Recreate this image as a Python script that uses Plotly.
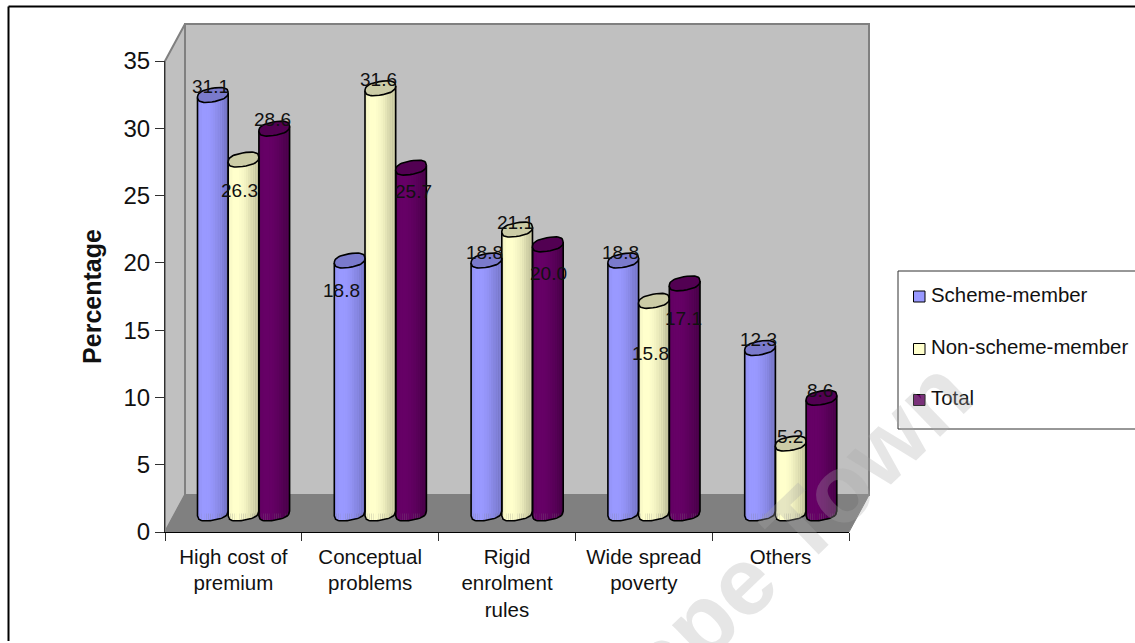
import numpy as np
import plotly.graph_objects as go

# Survey results: reasons given, in percent of respondents
categories = ["High cost of<br>premium", "Conceptual<br>problems", "Rigid<br>enrolment<br>rules",
              "Wide spread<br>poverty", "Others"]
scheme_member = [31.1, 18.8, 18.8, 18.8, 12.3]
non_scheme_member = [26.3, 31.6, 21.1, 15.8, 5.2]
total = [28.6, 25.7, 20.0, 17.1, 8.6]
y_ticks = [0, 5, 10, 15, 20, 25, 30, 35]

# Canvas layout, in pixels
W, H = 1135, 643
L, R, T, B = 165, 849, 61, 532
PX_X = (R - L) / 5          # pixels per category
PX_Y = (B - T) / 35         # pixels per percentage point
FONT = "Liberation Sans"
INK = "#111111"

# Fake 3-D: how far the back wall sits behind the front plane
WALL_DX, WALL_DY = 20, 37
DEPTH = 18.5 / PX_Y         # bars stand half way back, in axis units
BAR_W = 30.7 / PX_X
GROUP_START = 32.5 / PX_X
CAP_B, CAP_K = 6.8 / PX_Y, 2.4 / PX_Y

series = [
    ("Scheme-member", scheme_member, "#9999FF", "#7474C4", "#7A7ACC"),
    ("Non-scheme-member", non_scheme_member, "#FFFFCC", "#BEBE98", "#CCCCA6"),
    ("Total", total, "#660066", "#470047", "#520052"),
]
# Label nudges per series and category: (dx, dy) in pixels from the bar's front-plane top
label_nudge = [
    [(-2, -27), (-8, 11), (-2, -27), (-3, -27), (-2, -27)],
    [(-4, 12), (-2, -27), (-2, -26), (-3, 34), (-1, -26)],
    [(-2, -28), (2, 5), (1, 11), (-1, 17), (-1, -26)],
]
SHADE = [.2, .08, 0, 0, 0, .04, .1, .18, .3, .42, .55, .7, .85, 1.0]


def xp(px):
    return (px - L) / (R - L)


def yp(py):
    return (B - py) / (B - T)


def path(points):
    return "M " + " L ".join(f"{xp(x)} {yp(y)}" for x, y in points) + " Z"


def mix(c1, c2, t):
    a = [int(c1[i:i + 2], 16) for i in (1, 3, 5)]
    b = [int(c2[i:i + 2], 16) for i in (1, 3, 5)]
    return "rgb(" + ",".join(str(round(p + (q - p) * t)) for p, q in zip(a, b)) + ")"


def cap_outline(n=48, power=0.8):
    """Unit outline of the slanted bar end: u across the bar, v up in axis units."""
    t = np.linspace(0, 2 * np.pi, n)
    u = np.sign(np.cos(t)) * np.abs(np.cos(t)) ** power
    v = CAP_B * np.sign(np.sin(t)) * np.abs(np.sin(t)) ** power + CAP_K * u
    return u, v


def foot_v(u):
    """Lower edge of the bar end, at position u in [-1, 1]."""
    return -CAP_B * np.abs(1 - np.abs(u) ** (2 / 0.8)) ** 0.4 + CAP_K * u


fig = go.Figure()
annotations = []
n_stripes = len(SHADE)
idx = np.arange(len(categories))

for s, (name, values, light, dark, top_col) in enumerate(series):
    values = np.array(values, dtype=float)
    left = idx + GROUP_START + s * BAR_W
    # Solid bar for the series
    fig.add_bar(x=left, y=values, base=DEPTH, width=BAR_W, offset=0, name=name,
                marker=dict(color=light, line=dict(width=0)), showlegend=False,
                hovertemplate=name + ": %{y}<extra></extra>")
    # Vertical bands give the cylinder its shading and rounded foot
    w = BAR_W / n_stripes
    for k in range(n_stripes):
        u = (k + .5) / n_stripes * 2 - 1
        foot = DEPTH + foot_v(u)
        fig.add_bar(x=left, y=values + DEPTH - foot, base=foot, width=w, offset=k * w,
                    marker=dict(color=mix(light, dark, SHADE[k]), line=dict(width=0)),
                    showlegend=False, hoverinfo="skip")

for s, (name, values, light, dark, top_col) in enumerate(series):
    # Outline of the sides and foot, then the filled top
    sx, sy, cx, cy = [], [], [], []
    uc, vc = cap_outline()
    for i, v in enumerate(values):
        mid = i + GROUP_START + (s + .5) * BAR_W
        ub = np.linspace(-1, 1, 25)
        sx += [mid - BAR_W / 2] + list(mid + ub * BAR_W / 2) + [mid + BAR_W / 2, None]
        sy += [v + DEPTH - CAP_K] + list(DEPTH + foot_v(ub)) + [v + DEPTH + CAP_K, None]
        cx += list(mid + uc * BAR_W / 2) + [None]
        cy += list(v + DEPTH + vc) + [None]
        dx, dy = label_nudge[s][i]
        annotations.append(dict(x=mid, y=v, xref="x", yref="y", text=f"{v:.1f}", showarrow=False,
                                xshift=dx, yshift=-dy, font=dict(family=FONT, size=19, color=INK)))
    fig.add_scatter(x=sx, y=sy, mode="lines", line=dict(color="black", width=1.6),
                    showlegend=False, hoverinfo="skip")
    fig.add_scatter(x=cx, y=cy, mode="lines", fill="toself", fillcolor=top_col,
                    line=dict(color="black", width=1.6), showlegend=False, hoverinfo="skip")

# Walls and floor behind the bars
BX0, BX1, BY0, BY1 = L + WALL_DX, R + WALL_DX, B - WALL_DY, T - WALL_DY
WALL = "#C0C0C0"
EDGE = "#808080"
shapes = [
    dict(type="path", path=path([(BX0, BY1), (BX1, BY1), (BX1, BY0), (BX0, BY0)]),
         fillcolor=WALL, line=dict(color=EDGE, width=2)),
    dict(type="path", path=path([(L, T), (BX0, BY1), (BX0, BY0), (L, B)]),
         fillcolor=WALL, line=dict(color=EDGE, width=2)),
    dict(type="path", path=path([(BX0, BY0), (BX1, BY0), (R, B), (L, B)]),
         fillcolor=EDGE, line=dict(color=EDGE, width=1)),
]
for sh in shapes:
    sh.update(xref="paper", yref="paper", layer="below")

# Page frame: left and top rules only
frame = [((8.5, 6.5), (8.5, 641)), ((8.5, 6.5), (1135, 6.5))]
for (x0, y0), (x1, y1) in frame:
    shapes.append(dict(type="line", xref="paper", yref="paper", x0=xp(x0), y0=yp(y0), x1=xp(x1), y1=yp(y1),
                       line=dict(color="black", width=2)))

# Legend box with its three keys
shapes.append(dict(type="rect", xref="paper", yref="paper", x0=xp(898), x1=xp(1140), y0=yp(271), y1=yp(429),
                   fillcolor="white", line=dict(color="#303030", width=1)))
legend_y = [296.5, 349, 400]
for (name, _, light, _, _), ly in zip(series, legend_y):
    shapes.append(dict(type="rect", xref="paper", yref="paper", x0=xp(913.5), x1=xp(925), y0=yp(ly - 5.5), y1=yp(ly + 5.5),
                       fillcolor=light, line=dict(color="black", width=1)))
    annotations.append(dict(x=xp(929), y=yp(ly - 2), xref="paper", yref="paper", xanchor="left", yanchor="middle",
                            text=name, showarrow=False, font=dict(family=FONT, size=20.4, color=INK)))

# Faint overlay stamp running across the lower right
annotations.append(dict(x=xp(772), y=yp(552), xref="paper", yref="paper", xanchor="center", yanchor="middle",
                        text="Cape Town", textangle=-44, showarrow=False,
                        font=dict(family=FONT, size=96, weight=700, color="rgba(169,169,169,0.29)")))

fig.update_layout(
    width=W, height=H, autosize=False,
    margin=dict(l=L, r=W - R, t=T, b=H - B, pad=0),
    paper_bgcolor="white", plot_bgcolor="rgba(0,0,0,0)",
    barmode="overlay", shapes=shapes, annotations=annotations, showlegend=False,
    font=dict(family=FONT, color=INK),
    xaxis=dict(range=[0, 5], tickmode="array", tickvals=idx + .5, ticktext=categories,
               ticks="outside", ticklen=6, tickcolor="rgba(0,0,0,0)", showgrid=False, zeroline=False,
               showline=True, linecolor="black", linewidth=1,
               tickfont=dict(size=20.5, family=FONT),
               minor=dict(tickmode="array", tickvals=list(range(6)), ticks="outside", ticklen=8,
                          tickcolor="#303030", tickwidth=1, showgrid=False)),
    yaxis=dict(range=[0, 35], tickmode="array", tickvals=y_ticks, ticks="outside", ticklen=9,
               tickcolor="#303030", showgrid=False, zeroline=False, showline=True,
               linecolor="#303030", linewidth=1, tickfont=dict(size=24, family=FONT),
               title=dict(text="Percentage", standoff=14, font=dict(size=25, family=FONT, weight=700))),
)

fig.write_html("out.html", config=dict(displayModeBar=False))
